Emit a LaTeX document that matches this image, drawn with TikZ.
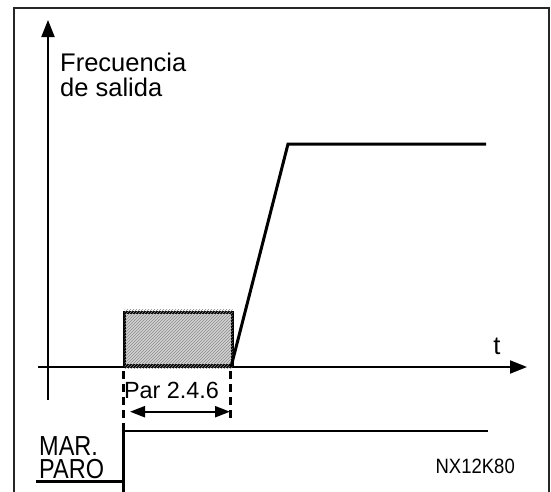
\documentclass[tikz,border=0pt]{standalone}
\usepackage{fontspec}
\setmainfont{Liberation Sans}
\usetikzlibrary{arrows.meta,patterns}
\begin{document}
\begin{tikzpicture}[x=1pt,y=-1pt,
  frame/.style={line width=1.6pt,draw=black!85},
  axis/.style={line width=2pt,-{Triangle[length=17pt,width=13pt]}},
  curve/.style={line width=3pt},
  dimline/.style={line width=2.2pt,{Triangle[length=15pt,width=11pt]}-{Triangle[length=15pt,width=11pt]}},
  guide/.style={line width=3pt,dash pattern=on 8pt off 5pt},
  lbl/.style={inner sep=0pt,font=\fontsize{25.5}{25}\selectfont},
  parlbl/.style={inner sep=0pt,font=\fontsize{23.4}{25}\selectfont},
  sig/.style={inner sep=0pt,font=\fontsize{23.5}{22.6}\selectfont},
  small/.style={inner sep=0pt,font=\fontsize{18.5}{20}\selectfont}]
\useasboundingbox (0,0) rectangle (551,491);
\fill[white] (0,0) rectangle (551,491);
% frame
\draw[frame] (14,495) -- (14,8) -- (549,8) -- (549,495);
% axes
\coordinate (yb) at (48,400);
\coordinate (yt) at (48,20);
\coordinate (xb) at (38,367);
\coordinate (xt) at (527,367);
\draw[axis] (yb) -- (yt);
\draw[axis] (xb) -- (xt);
% hatched pulse
\node[draw,line width=3pt,fill=gray!35,
  minimum width=108pt,minimum height=53pt,inner sep=0pt,anchor=south west] (pulse) at (123,367) {};
\fill[pattern=north east lines,pattern color=gray!90] ([shift={(1.5pt,-1.5pt)}]pulse.south west) rectangle ([shift={(-1.5pt,1.5pt)}]pulse.north east);
% ramp
\coordinate (r0) at (231,367);
\coordinate (r1) at (288,144);
\coordinate (r2) at (486,144);
\draw[curve,line join=miter] (r0) -- (r1) -- (r2);
% labels
\node[lbl,anchor=base west,align=left] (freq) at (60,96.7) {Frecuencia\\de salida};
\node[lbl,anchor=base] (t) at (497,354) {t};
% dashed guides
\coordinate (g1a) at (123.5,371);
\coordinate (g1b) at (123.5,430);
\coordinate (g2a) at (230,371);
\coordinate (g2b) at (230,418);
\draw[guide] (g1a) -- (g1b);
\draw[guide] (g2a) -- (g2b);
\node[parlbl,anchor=base] (par) at (171.5,398.3) {Par 2.4.6};
\coordinate (d1) at (130,411.7);
\coordinate (d2) at (230,411.7);
\draw[dimline] (d1) -- (d2);
% start/stop signal
\coordinate (s0) at (36,481);
\coordinate (s1) at (123.5,481);
\coordinate (s2) at (123.5,429);
\coordinate (s3) at (488,431);
\coordinate (s4) at (123.5,493);
\draw[line width=3pt] (s0) -- (s1);
\draw[line width=3pt] (s2) -- (s4);
\draw[line width=2.2pt] (s2 |- s3) -- (s3);
\node[sig,anchor=base west,align=left] (marparo) at (39,478.3) {\scalebox{1}[1.17]{MAR.}\\\scalebox{1}[1.17]{PARO}};
\node[small,anchor=base east] (code) at (515,473) {\scalebox{1}[1.12]{NX12K80}};
\end{tikzpicture}
\end{document}
